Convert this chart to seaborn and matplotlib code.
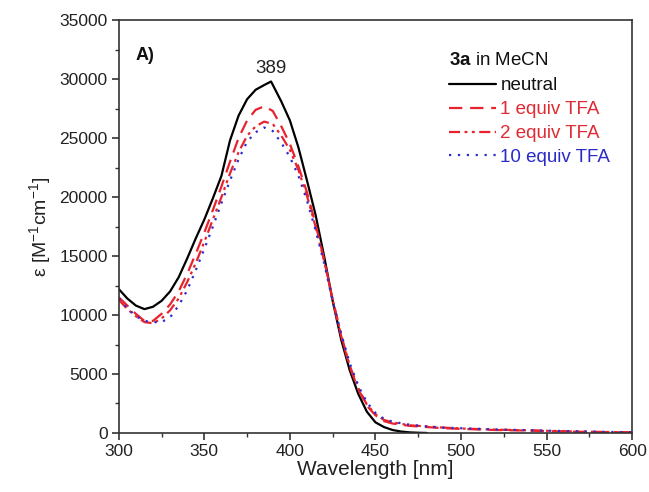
import numpy as np
import pandas as pd
import matplotlib
matplotlib.use("Agg")
import matplotlib.pyplot as plt
import seaborn as sns

# ---- data ----
wl_neutral = [300, 305, 310, 315, 320, 325, 330, 335, 340, 345, 350, 355, 360, 365, 370,
              375, 380, 385, 389, 395, 400, 405, 410, 415, 420, 425, 430, 435, 440, 445,
              450, 455, 460, 465, 470, 475, 480]
eps_neutral = [12200, 11400, 10800, 10500, 10700, 11200, 12000, 13200, 14800, 16500, 18100,
               19900, 21800, 24800, 26900, 28300, 29100, 29500, 29800, 28100, 26500, 24200,
               21400, 18500, 15000, 11200, 7900, 5300, 3300, 1800, 900, 500, 250, 120, 50, 20, 0]

wl_acid = [300, 305, 310, 315, 320, 325, 330, 335, 340, 345, 350, 355, 360, 365, 370,
           375, 380, 385, 390, 395, 400, 405, 410, 415, 420, 425, 430, 435, 440, 445,
           450, 455, 460, 470, 480, 490, 500, 520, 540, 560, 580, 600]
eps_1eq = [11500, 10800, 10100, 9500, 9500, 10100, 10900, 12000, 13500, 15200, 17000,
           18900, 20900, 23000, 25000, 26500, 27400, 27700, 27300, 26000, 24500, 22600,
           20400, 17700, 14700, 11300, 8200, 5600, 3700, 2300, 1500, 1000, 800, 600,
           500, 400, 350, 250, 200, 120, 80, 50]
eps_2eq = [11300, 10500, 9900, 9400, 9300, 9700, 10400, 11400, 12800, 14400, 16200,
           18100, 20000, 22000, 23800, 25200, 26000, 26400, 26200, 25200, 24000, 22300,
           20100, 17500, 14600, 11300, 8300, 5700, 3800, 2400, 1600, 1100, 900, 650,
           550, 450, 380, 280, 220, 150, 90, 60]
eps_10eq = [11400, 10600, 9900, 9500, 9400, 9400, 9800, 10800, 12100, 13800, 15600,
            17500, 19500, 21400, 23200, 24700, 25500, 25900, 25600, 24600, 23400, 21800,
            19700, 17200, 14400, 11200, 8400, 5900, 4000, 2600, 1700, 1200, 950, 700,
            550, 450, 400, 300, 230, 160, 100, 60]

labels = ["neutral", "1 equiv TFA", "2 equiv TFA", "10 equiv TFA"]
x_ticks = [300, 350, 400, 450, 500, 550, 600]
y_ticks = [0, 5000, 10000, 15000, 20000, 25000, 30000, 35000]

# ---- styling ----
sns.set_style("ticks")
plt.rcParams['font.family'] = ['Liberation Sans', 'DejaVu Sans']
plt.rcParams['mathtext.fontset'] = 'custom'
plt.rcParams['mathtext.rm'] = 'Liberation Sans'
plt.rcParams['mathtext.bf'] = 'Liberation Sans:bold'

red = "#e8232d"
blue = "#2b2bd0"
colors = ["black", red, red, blue]
text_colors = ["#111111", "#e02a33", "#e02a33", "#2a2ac8"]
dashes = [(None, None), (6, 3.5), (5, 2, 1.3, 2, 1.3, 2), (1, 3)]

fig = plt.figure(figsize=(6.49, 4.92), dpi=100)
ax = fig.add_axes([0.183, 0.120, 0.791, 0.839])

series = [(wl_neutral, eps_neutral), (wl_acid, eps_1eq), (wl_acid, eps_2eq), (wl_acid, eps_10eq)]
for (x, y), lab, c, d in zip(series, labels, colors, dashes):
    df = pd.DataFrame({"wl": x, "eps": y})
    sns.lineplot(data=df, x="wl", y="eps", ax=ax, color=c, lw=1.6, label=lab)
    line = ax.lines[-1]
    if d[0] is not None:
        line.set_dashes(d)

ax.set_xlim(300, 600)
ax.set_ylim(0, 35000)
ax.set_xticks(x_ticks)
ax.set_yticks(y_ticks)
ax.set_xticks(np.arange(325, 600, 50), minor=True)
ax.set_yticks(np.arange(2500, 35000, 5000), minor=True)
ax.tick_params(axis='both', which='major', direction='out', length=5, width=1.2,
               labelsize=12.5, colors='#333333', labelcolor='#222222', top=False, right=False,
               pad=3)
ax.tick_params(axis='both', which='minor', direction='out', length=3, width=1.0,
               colors='#333333', top=False, right=False)
for s in ax.spines.values():
    s.set_color('#333333')
    s.set_linewidth(1.2)

ax.set_xlabel("Wavelength [nm]", fontsize=15, color='#222222', labelpad=1)
ax.set_ylabel(r"ε [M$^{-1}$cm$^{-1}$]", fontsize=14, color='#222222', labelpad=4)

ax.text(0.033, 0.935, "A)", transform=ax.transAxes, fontsize=13, fontweight='bold',
        va='top', ha='left', color='#111111')
ax.annotate("389", xy=(389, 29800), xytext=(0, 3), textcoords='offset points',
            ha='center', va='bottom', fontsize=13.5, color='#222222')

leg = ax.legend(loc='upper left', bbox_to_anchor=(0.643, 0.923), frameon=False,
                title=r"$\bf{3a}$ in MeCN", fontsize=13.5, title_fontsize=13.5,
                handlelength=2.5, handletextpad=0.25, labelspacing=0.36,
                alignment='left', borderaxespad=0, borderpad=0)
leg._legend_box.sep = 6
for t, c in zip(leg.get_texts(), text_colors):
    t.set_color(c)
leg.get_title().set_color('#111111')

fig.savefig("out.png", dpi=100)
